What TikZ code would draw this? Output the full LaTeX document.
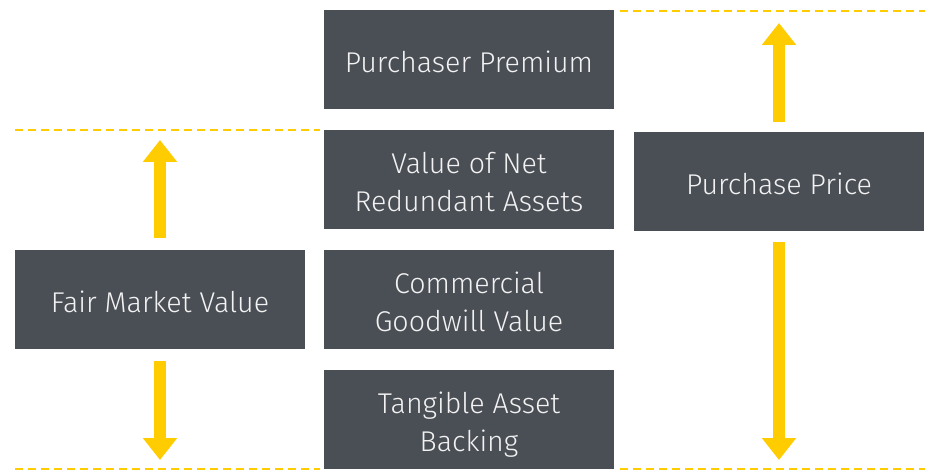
\documentclass[tikz,border=0pt]{standalone}
\usepackage{fontspec}
\setmainfont{Fira Sans}[UprightFont=* Light]
\usetikzlibrary{arrows.meta}
\definecolor{boxgray}{HTML}{4A4E55}
\definecolor{eyyellow}{HTML}{FFCC00}
\definecolor{txtwhite}{HTML}{F2F2F2}
\newcommand\tstrut{\rule[-4pt]{0pt}{35pt}}
\tikzset{
  box/.style={rectangle, fill=boxgray, text=txtwhite, inner sep=0pt,
    minimum width=290pt, minimum height=99pt, align=center,
    font=\fontsize{28.6}{38}\selectfont},
  guide/.style={draw=eyyellow, line width=2pt, dash pattern=on 8pt off 5pt},
  bigarrow/.style={draw=eyyellow, line width=12pt,
    -{Triangle[width=33pt,length=22pt]}}
}
\begin{document}
\begin{tikzpicture}[x=1pt,y=-1pt]
\useasboundingbox (0,0) rectangle (925,470);
% guide lines
\coordinate (g1a) at (15,130); \coordinate (g1b) at (320,130);
\coordinate (g2a) at (620,11); \coordinate (g2b) at (925,11);
\coordinate (g3a) at (15,469); \coordinate (g3b) at (320,469);
\coordinate (g4a) at (620,469); \coordinate (g4b) at (925,469);
\draw[guide] (g1a) -- (g1b);
\draw[guide] (g2a) -- (g2b);
\draw[guide] (g3a) -- (g3b);
\draw[guide] (g4a) -- (g4b);
% boxes
\node[box] (pp)  at (469,59.5)  {\tstrut Purchaser Premium};
\node[box] (vnr) at (469,179.5) {\tstrut Value of Net\\\tstrut Redundant Assets};
\node[box] (cgv) at (469,299)   {\tstrut Commercial\\\tstrut Goodwill Value};
\node[box] (tab) at (469,419.5) {\tstrut Tangible Asset\\\tstrut Backing};
\node[box] (fmv) at (160,299)   {\tstrut Fair Market Value};
\node[box] (pur) at (779,181.5) {\tstrut Purchase Price};
% arrow tips
\coordinate (fmvup) at (160,140);
\coordinate (fmvdn) at (160,460);
\coordinate (purup) at (779,23);
\coordinate (purdn) at (779,460);
\draw[bigarrow] ([yshift=11pt]fmv.north) -- (fmvup);
\draw[bigarrow] ([yshift=-12pt]fmv.south) -- (fmvdn);
\draw[bigarrow] ([yshift=10pt]pur.north) -- (purup);
\draw[bigarrow] ([yshift=-11pt]pur.south) -- (purdn);
\end{tikzpicture}
\end{document}
